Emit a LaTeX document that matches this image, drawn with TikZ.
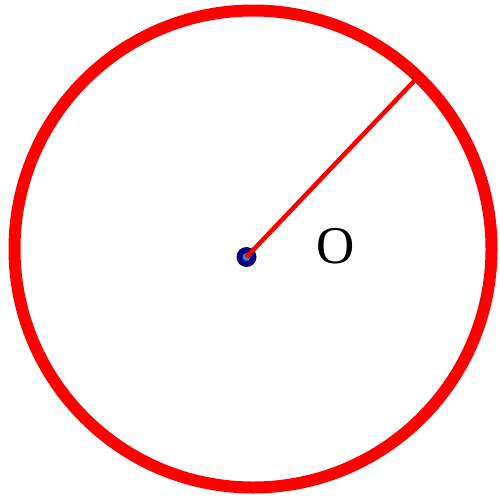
\documentclass[tikz,border=0pt]{standalone}
\usepackage{fontspec}
\setmainfont{Liberation Serif}
\usetikzlibrary{calc}

\definecolor{navyblue}{HTML}{000080}
\definecolor{steelblue}{HTML}{4682B4}

\begin{document}
\begin{tikzpicture}[
    x=1pt, y=-1pt,
    rim/.style={draw=red, line width=12pt},
    radius line/.style={draw=red, line width=4.5pt},
    centre dot/.style={circle, fill=navyblue, minimum size=20pt, inner sep=0pt},
    centre core/.style={circle, fill=steelblue, minimum size=8pt, inner sep=0pt},
    label/.style={font=\fontsize{53}{53}\selectfont}
]
\useasboundingbox (0,0) rectangle (500,498);

% Circle
\draw[rim] (253,249) circle (238.5);

% Centre and radius
\node[centre dot] (centre) at (246.5,257) {};
\node[centre core] (core) at (centre) {};
\coordinate (rimpt) at (417,78);
\draw[radius line] (centre.center) -- (rimpt);

\node[label] (O) at (336,246) {O};

\end{tikzpicture}
\end{document}
